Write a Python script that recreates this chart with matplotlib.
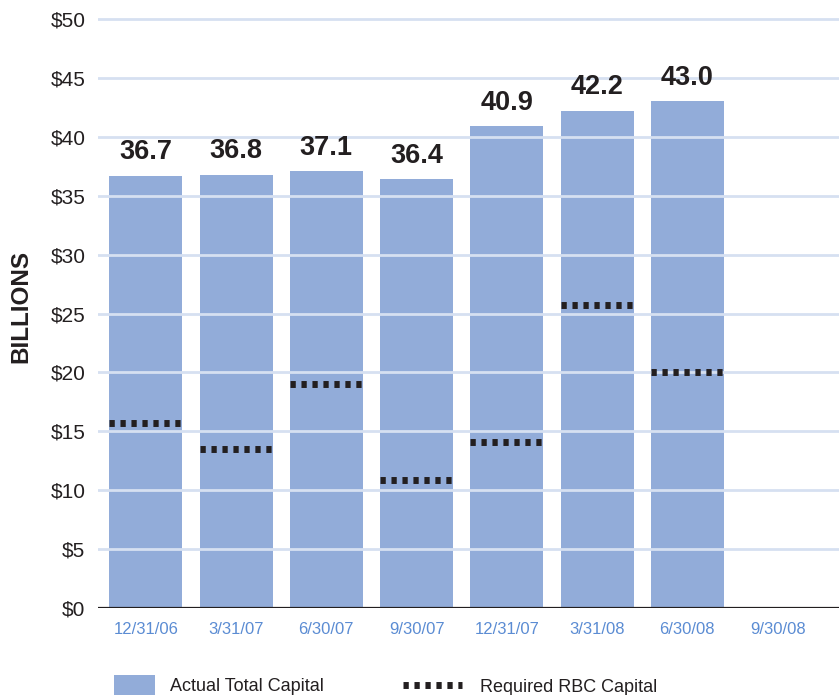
import numpy as np
import matplotlib
matplotlib.use("Agg")
import matplotlib.pyplot as plt
from matplotlib.patches import Patch
from matplotlib.lines import Line2D

dates = ["12/31/06", "3/31/07", "6/30/07", "9/30/07", "12/31/07", "3/31/08", "6/30/08", "9/30/08"]
actual_capital = [36.7, 36.8, 37.1, 36.4, 40.9, 42.2, 43.0, np.nan]
required_rbc = [15.7, 13.5, 19.0, 10.9, 14.1, 25.7, 20.0, np.nan]
yticks = [0, 5, 10, 15, 20, 25, 30, 35, 40, 45, 50]

bar_color = "#92acd9"
grid_color = "#d6e0f1"
label_blue = "#5b8cd3"
dark = "#231f20"
dots = (0, (0.76, 0.82))

plt.rcParams["font.family"] = ["Liberation Sans", "DejaVu Sans"]

fig = plt.figure(figsize=(8.39, 6.95), dpi=100)
ax = fig.add_axes([98 / 839, 1 - 608 / 695, 1 - 98 / 839, (608 - 15.5) / 695])

x = np.arange(len(dates))
w = 0.81
ax.bar(x, actual_capital, width=w, color=bar_color, zorder=1)

# required capital as dotted segments across each bar
ax.hlines(required_rbc, x - w / 2, x + w / 2, colors=dark, linewidth=5.0,
          linestyles=dots, zorder=3)

for xi, v in zip(x, actual_capital):
    if np.isnan(v):
        continue
    ax.annotate(f"{v:.1f}", xy=(xi, v), xytext=(0, 7.5), textcoords="offset points",
                ha="center", va="bottom", fontsize=19.5, fontweight="bold", color=dark)

ax.set_ylim(0, 50.3)
ax.set_xlim(-0.53, 7.68)
ax.set_yticks(yticks)
ax.set_yticklabels([f"${t}" for t in yticks], fontsize=15, color=dark)
ax.set_xticks(x)
ax.set_xticklabels(dates, fontsize=12, color=label_blue)
ax.tick_params(axis="both", length=0)
ax.tick_params(axis="y", pad=9)
ax.tick_params(axis="x", pad=10)

for yt in yticks[1:]:
    ax.axhline(yt, color=grid_color, linewidth=2, zorder=2)
ax.axhline(0, color=dark, linewidth=1.6, zorder=4)

for s in ax.spines.values():
    s.set_visible(False)

fig.text(21 / 839, 1 - 306 / 695, "BILLIONS", rotation=90, ha="center", va="center",
         fontsize=17.5, fontweight="bold", color=dark)

leg1 = fig.legend([Patch(facecolor=bar_color, edgecolor="none")], ["Actual Total Capital"],
                  loc="center left", bbox_to_anchor=(114 / 839, 1 - 685 / 695),
                  frameon=False, fontsize=13, handlelength=2.27, handleheight=1.33,
                  handletextpad=0.83, borderpad=0, borderaxespad=0, labelcolor=dark)
leg2 = fig.legend([Line2D([0], [0], color=dark, linewidth=5.0, linestyle=dots)],
                  ["Required RBC Capital"],
                  loc="center left", bbox_to_anchor=(403 / 839, 1 - 687 / 695),
                  frameon=False, fontsize=13, handlelength=3.27,
                  handletextpad=1.0, borderpad=0, borderaxespad=0, labelcolor=dark)

fig.savefig("out.png", dpi=100)
